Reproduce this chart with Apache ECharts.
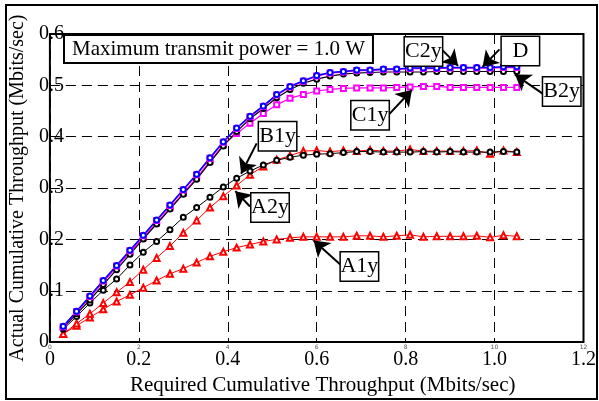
<!DOCTYPE html>
<html>
<head>
<meta charset="utf-8">
<script src="https://cdn.jsdelivr.net/npm/echarts@6/dist/echarts.min.js"></script>
<style>
  html, body { margin: 0; padding: 0; background: #fff; }
  #chart { width: 599px; height: 401px; }
</style>
</head>
<body>
<div id="chart"></div>
<script>
// required cumulative throughput (Mbits/sec)
const xs = [0.03, 0.06, 0.09, 0.12, 0.15, 0.18, 0.21, 0.24, 0.27, 0.30, 0.33, 0.36,
  0.39, 0.42, 0.45, 0.48, 0.51, 0.54, 0.57, 0.60, 0.63, 0.66, 0.69, 0.72,
  0.75, 0.78, 0.81, 0.84, 0.87, 0.90, 0.93, 0.96, 0.99, 1.02, 1.05]

// actual cumulative throughput (Mbits/sec)
const yD = [0.031, 0.060, 0.090, 0.120, 0.149, 0.179, 0.208, 0.238, 0.267, 0.297, 0.327, 0.359,
  0.390, 0.417, 0.440, 0.460, 0.482, 0.498, 0.509, 0.519, 0.525, 0.527, 0.530, 0.530,
  0.532, 0.532, 0.534, 0.534, 0.534, 0.535, 0.535, 0.535, 0.535, 0.536, 0.536]
const yC2 = [0.030, 0.059, 0.089, 0.119, 0.148, 0.178, 0.207, 0.237, 0.266, 0.296, 0.326, 0.358,
  0.389, 0.416, 0.439, 0.459, 0.481, 0.497, 0.508, 0.518, 0.524, 0.526, 0.529, 0.529,
  0.531, 0.531, 0.533, 0.533, 0.533, 0.534, 0.534, 0.534, 0.534, 0.535, 0.535]
const yB2 = [0.028, 0.055, 0.082, 0.112, 0.141, 0.171, 0.201, 0.230, 0.259, 0.288, 0.317, 0.350,
  0.382, 0.410, 0.435, 0.455, 0.476, 0.492, 0.504, 0.512, 0.518, 0.522, 0.524, 0.525,
  0.526, 0.526, 0.526, 0.526, 0.527, 0.527, 0.527, 0.527, 0.527, 0.527, 0.527]
const yC1 = [0.029, 0.058, 0.087, 0.117, 0.146, 0.175, 0.203, 0.232, 0.261, 0.290, 0.320, 0.352,
  0.384, 0.406, 0.426, 0.445, 0.462, 0.475, 0.482, 0.489, 0.492, 0.494, 0.495, 0.495,
  0.495, 0.496, 0.497, 0.498, 0.498, 0.496, 0.496, 0.496, 0.496, 0.496, 0.496]
const yB1 = [0.025, 0.050, 0.076, 0.101, 0.123, 0.150, 0.175, 0.196, 0.219, 0.243, 0.262, 0.282,
  0.302, 0.319, 0.333, 0.345, 0.354, 0.360, 0.364, 0.366, 0.367, 0.369, 0.371, 0.371,
  0.370, 0.370, 0.370, 0.371, 0.370, 0.371, 0.370, 0.370, 0.370, 0.371, 0.370]
const yA2 = [0.016, 0.036, 0.055, 0.076, 0.097, 0.117, 0.141, 0.164, 0.187, 0.213, 0.237, 0.262,
  0.284, 0.305, 0.326, 0.342, 0.355, 0.363, 0.372, 0.373, 0.371, 0.373, 0.372, 0.374,
  0.372, 0.372, 0.375, 0.372, 0.372, 0.372, 0.372, 0.373, 0.367, 0.373, 0.370]
const yA1 = [0.016, 0.032, 0.048, 0.064, 0.079, 0.092, 0.106, 0.120, 0.133, 0.143, 0.155, 0.167,
  0.176, 0.184, 0.190, 0.196, 0.200, 0.203, 0.205, 0.205, 0.205, 0.205, 0.207, 0.207,
  0.205, 0.207, 0.209, 0.205, 0.206, 0.206, 0.206, 0.207, 0.204, 0.208, 0.206]

const xTicks = [0, 0.2, 0.4, 0.6, 0.8, 1.0, 1.2]
const yTicks = [0, 0.1, 0.2, 0.3, 0.4, 0.5, 0.6]

// callout labels: [text, box centre, arrow tail, arrow head] in data units
const notes = [
  ['C2y', [0.840, 0.566], [0.881, 0.570], [0.918, 0.538]],
  ['D', [1.058, 0.567], [1.011, 0.570], [0.973, 0.536]],
  ['B2y', [1.151, 0.488], [1.113, 0.481], [1.046, 0.521]],
  ['C1y', [0.720, 0.442], [0.761, 0.442], [0.814, 0.491]],
  ['B1y', [0.512, 0.401], [0.465, 0.387], [0.430, 0.328]],
  ['A2y', [0.495, 0.262], [0.450, 0.264], [0.417, 0.294]],
  ['A1y', [0.696, 0.147], [0.653, 0.151], [0.593, 0.198]]
]

const serif = 'Liberation Serif'
const pairs = ys => xs.map((x, i) => [x, ys[i]])

function curve(name, ys, color, symbol, size, width) {
  return {
    name: name,
    type: 'line',
    data: pairs(ys),
    symbol: symbol,
    symbolSize: size,
    showSymbol: true,
    lineStyle: { color: color, width: width },
    itemStyle: { color: color, borderWidth: 1 },
    animation: false
  }
}

const chart = echarts.init(document.getElementById('chart'))
chart.setOption({
  animation: false,
  grid: {
    left: 45, right: 12, top: 34, bottom: 49,
    show: true, borderColor: '#000', borderWidth: 2
  },
  xAxis: [{
    type: 'value',
    min: 0, max: 1.2, interval: 0.2,
    name: 'Required Cumulative Throughput (Mbits/sec)',
    nameLocation: 'middle',
    nameGap: 20,
    nameTextStyle: { fontFamily: serif, fontSize: 21, color: '#000', padding: [0, 0, 0, 12] },
    axisLine: { show: false },
    axisTick: { show: false },
    axisLabel: {
      margin: 8, fontFamily: serif, fontSize: 20, color: '#000',
      formatter: v => xTicks.indexOf(v) === 0 ? '0' : v.toFixed(1)
    },
    splitLine: { lineStyle: { color: '#000', width: 1, type: [10, 6] } }
  }, {
    type: 'value',
    position: 'bottom',
    min: 0, max: 12, interval: 2,
    axisLine: { show: false },
    axisTick: { show: false },
    splitLine: { show: false },
    axisLabel: { margin: 2, fontSize: 6, color: '#555', fontFamily: 'DejaVu Sans' }
  }],
  yAxis: {
    type: 'value',
    min: 0, max: 0.6, interval: 0.1,
    name: 'Actual Cumulative Throughput (Mbits/sec)',
    nameLocation: 'middle',
    nameGap: 12,
    nameTextStyle: { fontFamily: serif, fontSize: 20, color: '#000' },
    axisLine: { show: false },
    axisTick: { show: false },
    axisLabel: {
      margin: 11, align: 'left', fontFamily: serif, fontSize: 20, color: '#000',
      formatter: v => yTicks.indexOf(v) === 0 ? '0' : v.toFixed(1)
    },
    splitLine: { lineStyle: { color: '#000', width: 1, type: [10, 6] } }
  },
  graphic: [{
    type: 'rect',
    shape: { x: 6, y: 5, width: 591, height: 394 },
    style: { fill: 'none', stroke: '#000', lineWidth: 2 },
    z: 0
  }, {
    type: 'text',
    left: 63, top: 34,
    style: {
      text: 'Maximum transmit power = 1.0 W',
      font: '21px "Liberation Serif"',
      fill: '#000',
      backgroundColor: '#fff',
      borderColor: '#000',
      borderWidth: 2,
      padding: [3, 7, 2, 7]
    },
    z: 100
  }],
  series: [
    curve('A1y', yA1, '#ff0000', 'emptyTriangle', 6, 1),
    curve('A2y', yA2, '#ff0000', 'emptyTriangle', 6, 1),
    curve('B1y', yB1, '#000000', 'emptyCircle', 5, 1),
    curve('C1y', yC1, '#ff00ff', 'emptyRect', 5, 1.2),
    curve('B2y', yB2, '#000000', 'emptyCircle', 5, 1.2),
    curve('C2y', yC2, '#ff00ff', 'emptyRect', 5, 1.5),
    curve('D', yD, '#0000ff', 'emptyCircle', 5, 1.5),
    {
      name: 'notes',
      type: 'line',
      data: [],
      z: 20,
      silent: true,
      markLine: {
        silent: true,
        symbol: ['none', 'arrow'],
        symbolSize: 15,
        label: { show: false },
        lineStyle: { color: '#000', width: 2, type: 'solid' },
        data: notes.map(n => [{ coord: n[2] }, { coord: n[3] }])
      },
      markPoint: {
        silent: true,
        symbol: 'rect',
        symbolSize: 1,
        itemStyle: { color: 'rgba(0,0,0,0)' },
        label: {
          show: true,
          position: 'inside',
          formatter: '{b}',
          fontFamily: serif,
          fontSize: 22,
          color: '#000',
          width: 33,
          align: 'center',
          backgroundColor: '#fff',
          borderColor: '#000',
          borderWidth: 1.5,
          padding: [4, 2, 2, 2]
        },
        data: notes.map(n => ({ name: n[0], coord: n[1] }))
      }
    }
  ]
})
</script>
</body>
</html>
